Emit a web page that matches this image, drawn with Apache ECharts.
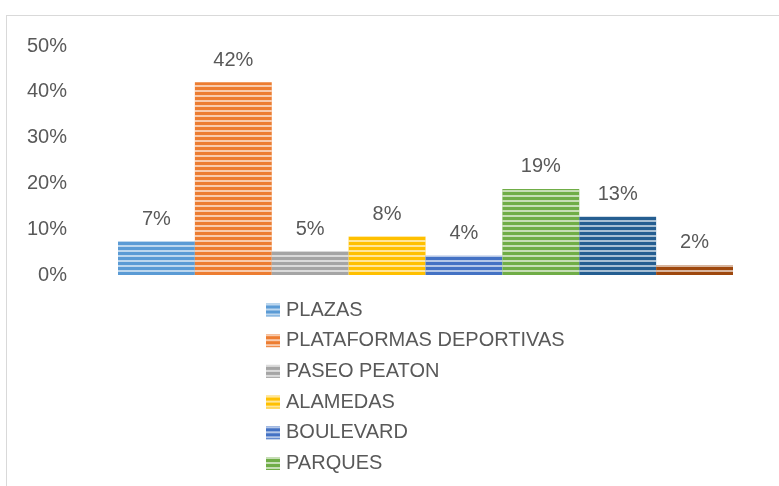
<!DOCTYPE html>
<html>
<head>
<meta charset="utf-8">
<script src="https://cdn.jsdelivr.net/npm/echarts@6/dist/echarts.min.js"></script>
<style>
  html, body { margin: 0; padding: 0; background: #fff; overflow: hidden; }
  #frame { position: absolute; left: 6px; top: 15px; width: 900px; height: 600px; border: 1px solid #d9d9d9; box-sizing: border-box; }
  #chart { position: absolute; left: 0; top: 0; width: 779px; height: 486px; }
</style>
</head>
<body>
<div id="frame"></div>
<div id="chart"></div>
<script>
const seriesNames = ['PLAZAS', 'PLATAFORMAS DEPORTIVAS', 'PASEO PEATON', 'ALAMEDAS', 'BOULEVARD', 'PARQUES', 'CICLOVIAS', 'OTROS'];
const seriesValues = [0.074, 0.421, 0.052, 0.084, 0.042, 0.188, 0.127, 0.022];
const seriesColors = ['#5B9BD5', '#ED7D31', '#A5A5A5', '#FFC000', '#4472C4', '#70AD47', '#255E91', '#9E480E'];
const categories = [''];
const yTicks = [0, 0.1, 0.2, 0.3, 0.4, 0.5];

const textColor = '#595959';
const font = 'Liberation Sans, Arial, sans-serif';

const chart = echarts.init(document.getElementById('chart'), null, { renderer: 'canvas' });

const series = seriesNames.map((name, i) => ({
  name: name,
  type: 'bar',
  data: [seriesValues[i]],
  barGap: '0%',
  barCategoryGap: '0%',
  itemStyle: {
    color: seriesColors[i],
    decal: {
      symbol: 'rect',
      symbolSize: 1,
      dashArrayX: [1, 0],
      dashArrayY: [2, 3],
      rotation: 0,
      color: 'rgba(255,255,255,0.6)'
    }
  },
  label: {
    show: true,
    position: 'top',
    distance: 12,
    color: textColor,
    fontFamily: font,
    fontSize: 20,
    formatter: p => Math.round(p.value * 100) + '%'
  },
  emphasis: { disabled: true }
}));

chart.setOption({
  animation: false,
  backgroundColor: 'transparent',
  grid: { left: 118, right: 46, top: 46, bottom: 211, containLabel: false },
  legend: {
    orient: 'vertical',
    left: 261,
    top: 295,
    height: 400,
    itemWidth: 14,
    itemHeight: 13,
    itemGap: 10.7,
    icon: 'rect',
    data: seriesNames,
    textStyle: { color: textColor, fontFamily: font, fontSize: 20, lineHeight: 20, padding: [0, 0, 0, 1] }
  },
  xAxis: {
    type: 'category',
    data: categories,
    axisLine: { show: false },
    axisTick: { show: false },
    axisLabel: { show: false },
    splitLine: { show: false }
  },
  yAxis: {
    type: 'value',
    min: yTicks[0],
    max: yTicks[yTicks.length - 1],
    interval: 0.1,
    axisLine: { show: false },
    axisTick: { show: false },
    splitLine: { show: false },
    axisLabel: {
      color: textColor,
      fontFamily: font,
      fontSize: 20,
      margin: 51,
      formatter: v => Math.round(v * 100) + '%'
    }
  },
  series: series
});
</script>
</body>
</html>
